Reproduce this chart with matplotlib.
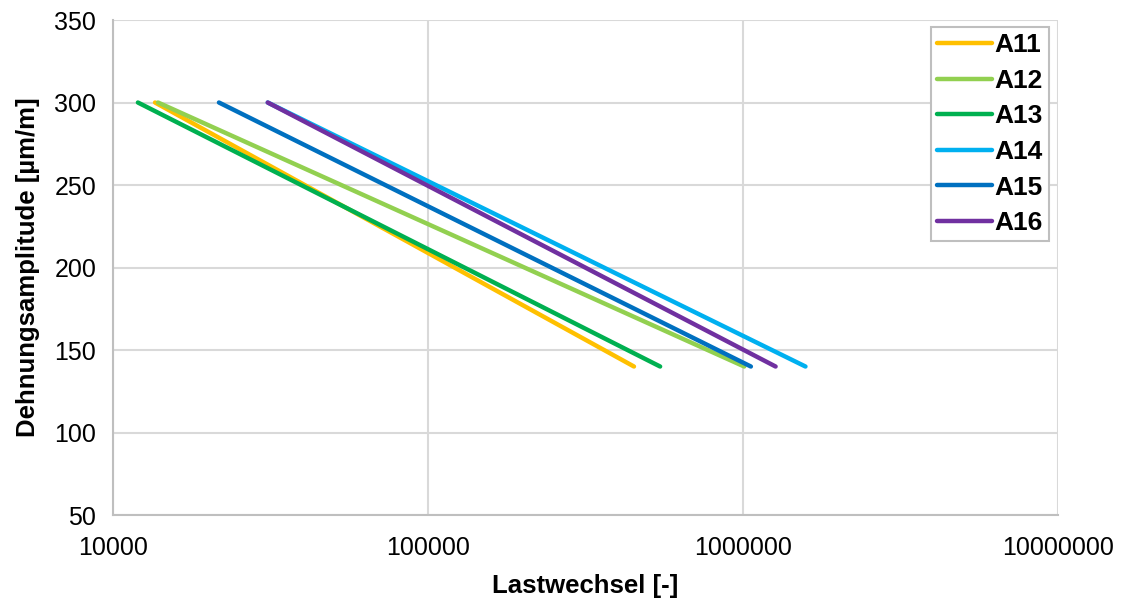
import numpy as np
import matplotlib
matplotlib.use('Agg')
import matplotlib.pyplot as plt

plt.rcParams['font.family'] = ['Liberation Sans', 'DejaVu Sans']

# Daten: Lastwechsel bei 300 und 140 µm/m
labels = ["A11", "A12", "A13", "A14", "A15", "A16"]
colors = ["#FFC000", "#92D050", "#00B050", "#00B0F0", "#0070C0", "#7030A0"]
dehnung = [300, 140]
n_start = [13600, 13900, 12000, 31000, 21700, 31000]
n_end = [451000, 1010000, 546000, 1580000, 1060000, 1270000]

fig = plt.figure(figsize=(11.23, 5.99), dpi=100)
ax = fig.add_axes([0.1006, 0.1402, 0.8414, 0.8264])

for i in range(len(labels)):
    ax.plot([n_start[i], n_end[i]], dehnung, color=colors[i], linewidth=3.2,
            solid_capstyle='round', label=labels[i], zorder=3)

ax.set_xscale('log')
ax.set_xlim(10000, 10000000)
ax.set_ylim(50, 350)
ax.set_xticks([10000, 100000, 1000000, 10000000])
ax.set_xticklabels(["10000", "100000", "1000000", "10000000"])
ax.xaxis.set_minor_locator(matplotlib.ticker.NullLocator())
ax.set_yticks(np.arange(50, 351, 50))
ax.tick_params(axis='y', labelsize=18, length=0, pad=12)
ax.tick_params(axis='x', labelsize=18, length=0, pad=15)

ax.grid(True, color='#D9D9D9', linewidth=1.5, zorder=0)
for s in ['top', 'right']:
    ax.spines[s].set_visible(False)
for s in ['left', 'bottom']:
    ax.spines[s].set_color('#BFBFBF')
    ax.spines[s].set_linewidth(1.5)

ax.set_xlabel("Lastwechsel [-]", fontsize=18.5, fontweight='bold', labelpad=10)
ax.set_ylabel("Dehnungsamplitude [µm/m]", fontsize=18.5, fontweight='bold', labelpad=10)

leg = ax.legend(loc='upper right', bbox_to_anchor=(0.9905, 0.985),
                prop={'weight': 'bold', 'size': 19}, handlelength=2.1,
                handletextpad=0.1, labelspacing=0.44, borderpad=0.22,
                borderaxespad=0, fancybox=False, framealpha=1, edgecolor='#BFBFBF')
leg.get_frame().set_linewidth(1.5)

fig.savefig("out.png", dpi=100)
